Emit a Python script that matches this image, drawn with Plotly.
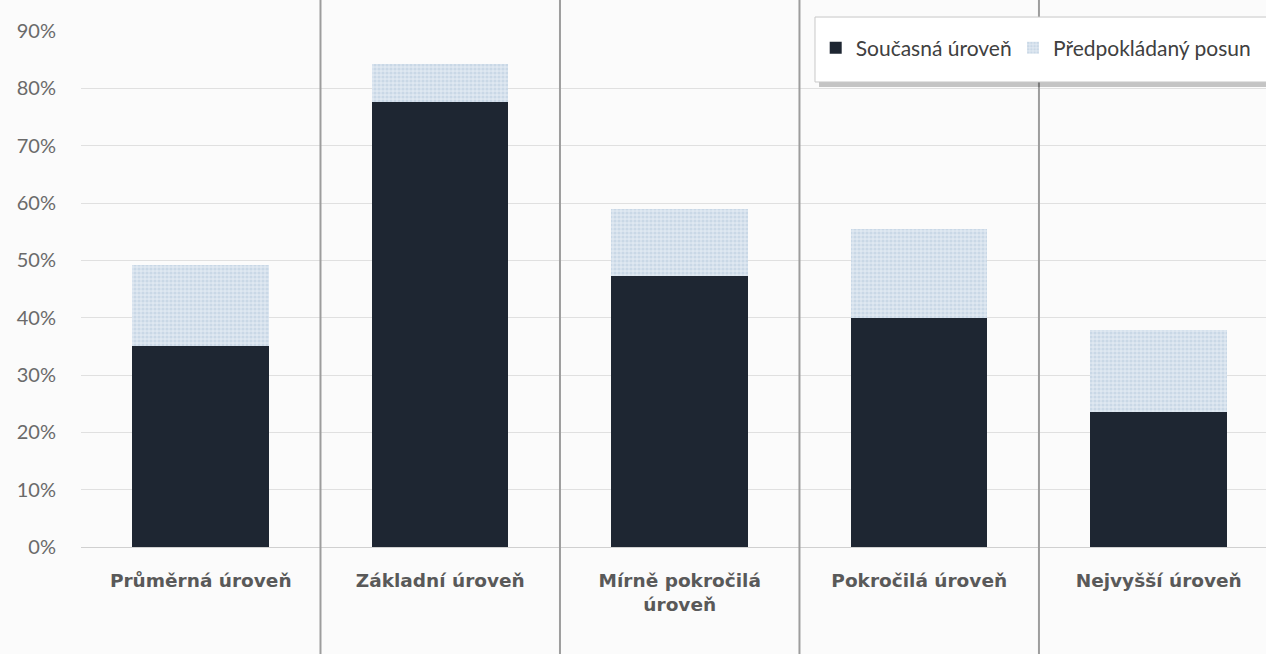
import plotly.graph_objects as go

categories = ["Průměrná úroveň", "Základní úroveň", "Mírně pokročilá<br>úroveň",
              "Pokročilá úroveň", "Nejvyšší úroveň"]
current_level = [35.1, 77.6, 47.3, 39.9, 23.5]
expected_shift = [14.1, 6.6, 11.7, 15.6, 14.4]
y_ticks = [0, 10, 20, 30, 40, 50, 60, 70, 80, 90]
y_tick_labels = [f"{v}%" for v in y_ticks]

FONT = "Lato"
x_idx = list(range(len(categories)))

fig = go.Figure()
fig.add_trace(go.Bar(
    x=x_idx, y=current_level, name="Současná úroveň",
    marker=dict(color="#1e2632", line=dict(width=0)), width=0.57,
    legend="legend",
))
fig.add_trace(go.Bar(
    x=x_idx, y=expected_shift, name="Předpokládaný posun",
    marker=dict(color="#d6e2ed", line=dict(width=0),
                pattern=dict(shape=".", fgcolor="#b3c8dc", bgcolor="#dfe8f1",
                             size=4, solidity=0.5)),
    width=0.57, legend="legend2",
))

# category separators (multi-level axis style)
for i in range(len(categories) - 1):
    fig.add_shape(type="line", xref="x", yref="paper", x0=i + 0.5, x1=i + 0.5,
                  y0=-0.3, y1=1.1, line=dict(color="#9d9d9d", width=2), layer="above")

# legend box with shadow
fig.add_shape(type="rect", xref="paper", yref="paper", x0=0.6228, x1=1.02,
              y0=0.8915, y1=1.0194, fillcolor="rgba(0,0,0,0.22)", line=dict(width=0),
              layer="above")
fig.add_shape(type="rect", xref="paper", yref="paper", x0=0.6194, x1=1.02,
              y0=0.9012, y1=1.0271, fillcolor="#ffffff",
              line=dict(color="#c8c8c8", width=1), layer="above")

legend_style = dict(orientation="h", y=0.967, xanchor="left", yanchor="middle",
                    bgcolor="rgba(0,0,0,0)", borderwidth=0,
                    font=dict(family=FONT, size=21, color="#404040"), itemwidth=30)

fig.update_layout(
    width=1266, height=654,
    barmode="stack",
    paper_bgcolor="#fbfbfb", plot_bgcolor="#fbfbfb",
    margin=dict(l=81, r=0, t=31, b=107, autoexpand=False),
    font=dict(family=FONT, color="#595959", size=20),
    showlegend=True,
    legend=dict(x=0.620, **legend_style),
    legend2=dict(x=0.7865, **legend_style),
)
fig.update_xaxes(
    range=[-0.5, 4.448], tickmode="array", tickvals=x_idx,
    ticktext=["<b>" + c + "</b>" for c in categories],
    showgrid=False, ticks="", showline=False, zeroline=False,
    ticklabelstandoff=20,
    tickfont=dict(family="DejaVu Sans", size=18.5, color="#595959"),
)
fig.update_yaxes(
    range=[0, 90], tickmode="array", tickvals=y_ticks, ticktext=y_tick_labels,
    showgrid=True, gridcolor="#e0e0e0", gridwidth=1,
    zeroline=True, zerolinecolor="#d0d0d0", zerolinewidth=1,
    ticks="", ticklabelstandoff=24,
    tickfont=dict(family=FONT, size=20, color="#6a6a6a"),
)

fig.write_html("out.html", config={"displayModeBar": False},
               post_script="document.body.style.margin='0';")
